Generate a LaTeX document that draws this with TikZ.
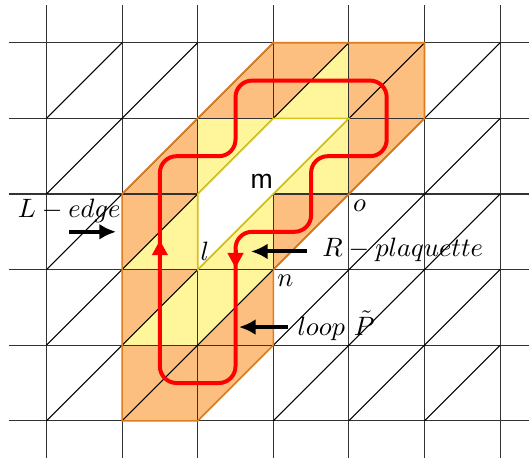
\documentclass[tikz,border=0pt]{standalone}
\usepackage{fontspec}
\newfontfamily\labelsans{Liberation Sans}
\usetikzlibrary{arrows.meta}
\definecolor{fillorange}{RGB}{253,191,128}
\definecolor{fillyellow}{RGB}{255,245,155}
\definecolor{edgeorange}{RGB}{222,125,30}
\definecolor{edgeyellow}{RGB}{215,195,20}
\begin{document}
\begin{tikzpicture}[x=1cm,y=1cm,
  gridline/.style={black!80, line width=0.4pt},
  diagline/.style={black, line width=0.4pt},
  loopline/.style={red, line width=1.5pt, rounded corners=0.22cm},
  looptip/.style={red, line width=1.5pt, -{Triangle[length=0.2cm,width=0.2cm]}},
  pointer/.style={black, line width=1.5pt, -{Latex[length=0.22cm,width=0.21cm]}},
  lbl/.style={anchor=base west, inner sep=0pt, outer sep=0pt}]
\useasboundingbox (-0.615,-0.519) rectangle (6.382,5.566);
% shaded regions
\fill[fillorange] (1,3) -- (3,5) -- (5,5) -- (5,4) -- (3,2) -- (3,1) -- (2,0) -- (1,0) -- cycle;
\fill[fillyellow]
  (2,3) -- (2,4) -- (3,4) -- cycle
  (3,4) -- (4,4) -- (4,5) -- cycle
  (3,3) -- (4,3) -- (4,4) -- cycle
  (2,2) -- (3,2) -- (3,3) -- cycle
  (1,2) -- (2,2) -- (2,3) -- cycle
  (1,1) -- (2,1) -- (2,2) -- cycle
  (2,1) -- (2,2) -- (3,2) -- cycle;
% lattice
\foreach \r in {0,...,5} \draw[gridline] (-0.5,\r) -- (6.382,\r);
\foreach \c in {0,...,6} \draw[gridline] (\c,-0.49) -- (\c,5.5);
\foreach \c in {0,...,5} \foreach \r in {0,...,4} \draw[diagline] (\c,\r) -- ++(1,1);
% hole
\fill[white] (2,3) -- (3,4) -- (4,4) -- (2,2) -- cycle;
\draw[edgeyellow, line width=0.6pt] (2,3) -- (3,4) -- (4,4) -- (2,2) -- cycle;
% outer boundary
\draw[edgeorange, line width=0.6pt] (1,3) -- (3,5) -- (5,5) -- (5,4) -- (3,2) -- (3,1) -- (2,0) -- (1,0) -- cycle;
% loop
\draw[loopline] (1.5,1.5) -- (1.5,3.5) -- (2.5,3.5) -- (2.5,4.5) -- (4.5,4.5) -- (4.5,3.5) -- (3.5,3.5) -- (3.5,2.5) -- (2.5,2.5) -- (2.5,0.5) -- (1.5,0.5) -- cycle;
\draw[looptip] (1.5,2.15) -- (1.5,2.39);
\draw[looptip] (2.5,2.26) -- (2.5,2.02);
% labels
\node[lbl] (Ledge) at (-0.38,2.693) {$L-edge$};
\node[lbl, font=\labelsans] (m) at (2.70,3.079) {m};
\node[lbl] (o) at (4.055,2.762) {$o$};
\node[lbl] (l) at (2.04,2.127) {$l$};
\node[lbl] (n) at (3.055,1.774) {$n$};
\node[lbl] (Rp) at (3.65,2.167) {$R-plaquette$};
\node[lbl] (loop) at (3.32,1.135) {$loop\ \tilde{P}$};
% pointers
\coordinate (ledgeTail) at (0.30,2.5);
\coordinate (ledgeTip) at (0.92,2.5);
\coordinate (rpTail) at (3.44,2.24);
\coordinate (rpTip) at (2.705,2.24);
\coordinate (loopTail) at (3.195,1.24);
\coordinate (loopTip) at (2.546,1.24);
\draw[pointer] (ledgeTail) -- (ledgeTip);
\draw[pointer] (rpTail) -- (rpTip);
\draw[pointer] (loopTail) -- (loopTip);
\end{tikzpicture}
\end{document}
